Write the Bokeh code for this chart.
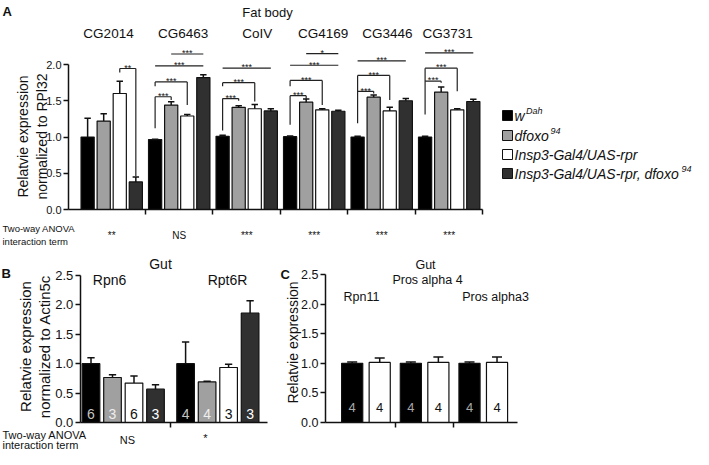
from math import pi
from bokeh.plotting import figure
from bokeh.models import (Range1d, FixedTicker, CustomJSTickFormatter, Label,
                          ColumnDataSource, NumeralTickFormatter)
from bokeh.layouts import column, row
from bokeh.embed import file_html
from bokeh.resources import INLINE
from bokeh.core.properties import value

FONT = "Liberation Sans"

# ---------------- data ----------------
A_genes = ["CG2014", "CG6463", "CoIV", "CG4169", "CG3446", "CG3731"]
A_wdah = [1.00, 0.965, 1.01, 1.005, 1.00, 1.00]
A_wdah_err = [0.26, 0.005, 0.015, 0.01, 0.01, 0.01]
A_dfoxo = [1.22, 1.44, 1.41, 1.48, 1.55, 1.62]
A_dfoxo_err = [0.10, 0.045, 0.02, 0.045, 0.03, 0.07]
A_rpr = [1.60, 1.29, 1.39, 1.375, 1.36, 1.375]
A_rpr_err = [0.17, 0.02, 0.06, 0.015, 0.05, 0.015]
A_rprfoxo = [0.38, 1.82, 1.36, 1.355, 1.50, 1.49]
A_rprfoxo_err = [0.07, 0.04, 0.03, 0.015, 0.03, 0.03]
A_anova = ["**", "NS", "***", "***", "***", "***"]

# significance brackets in panel A: group, from bar, to bar, height, leg ends, label
sig_group = [0, 1, 1, 1, 1, 2, 2, 2, 3, 3, 3, 3, 4, 4, 4, 5, 5, 5]
sig_from = [2, 1, 0, 0, 0, 0, 0, 0, 1, 0, 0, 0, 0, 0, 0, 0, 0, 0]
sig_to = [3, 3, 3, 2, 1, 3, 2, 1, 3, 3, 2, 1, 3, 2, 1, 3, 2, 1]
sig_y = [1.945, 2.145, 1.98, 1.76, 1.555, 1.95, 1.75, 1.53, 2.15, 1.99, 1.78, 1.57,
         2.05, 1.85, 1.63, 2.16, 1.95, 1.77]
sig_left = [1.89, None, None, 1.70, 1.12, None, 1.70, 1.09, None, None, 1.70, 1.17,
            None, 1.19, None, None, 1.31, None]
sig_right = [0.46, None, None, 1.44, 1.51, None, 1.49, 1.50, None, None, 1.44, 1.52,
             None, 1.51, 1.60, None, 1.63, 1.75]
sig_text = ["**", "***", "***", "***", "***", "***", "***", "***", "*", "***", "***", "***",
            "***", "***", "***", "***", "***", "***"]

B_genes = ["Rpn6", "Rpt6R"]
B_wdah = [1.00, 1.00]
B_wdah_err = [0.10, 0.37]
B_dfoxo = [0.765, 0.69]
B_dfoxo_err = [0.045, 0.01]
B_rpr = [0.67, 0.935]
B_rpr_err = [0.12, 0.055]
B_rprfoxo = [0.567, 1.86]
B_rprfoxo_err = [0.075, 0.21]
B_n = [6, 3, 6, 3, 4, 4, 3, 3]
B_anova = ["NS", "*"]

C_genes = ["Rpn11", "Pros alpha 4", "Pros alpha3"]
C_wdah = [1.00, 1.00, 1.00]
C_wdah_err = [0.02, 0.02, 0.02]
C_rpr = [1.015, 1.015, 1.015]
C_rpr_err = [0.075, 0.09, 0.09]
C_n = [4, 4, 4, 4, 4, 4]

COLORS = ["#000000", "#a0a0a0", "#ffffff", "#303030"]


def make_fig(w, h, xr, yr):
    p = figure(width=w, height=h, output_backend="svg", toolbar_location=None,
               x_range=Range1d(*xr), y_range=Range1d(*yr),
               min_border=0, min_border_left=0, min_border_right=0,
               min_border_top=0, min_border_bottom=0)
    p.outline_line_color = None
    p.xgrid.visible = False
    p.ygrid.visible = False
    p.background_fill_color = "white"
    p.border_fill_color = "white"
    return p


def style_axes(p, yticks, ysize, xticks, xbounds, yaxis_x):
    ya = p.yaxis[0]
    ya.fixed_location = yaxis_x
    ya.ticker = FixedTicker(ticks=yticks)
    ya.bounds = (0, yticks[-1])
    ya.formatter = NumeralTickFormatter(format="0.0")
    ya.major_label_text_font = FONT
    ya.major_label_text_font_size = ysize
    ya.major_label_text_color = "#111111"
    ya.major_label_standoff = 2
    ya.axis_line_width = 1.5
    ya.axis_line_color = "#111111"
    ya.major_tick_line_width = 1.5
    ya.major_tick_line_color = "#111111"
    ya.major_tick_out = 5
    ya.major_tick_in = 0
    ya.minor_tick_line_color = None
    xa = p.xaxis[0]
    xa.fixed_location = 0
    xa.ticker = FixedTicker(ticks=xticks)
    xa.formatter = CustomJSTickFormatter(code="return ''")
    xa.bounds = xbounds
    xa.axis_line_width = 1.5
    xa.axis_line_color = "#111111"
    xa.major_tick_line_width = 1.5
    xa.major_tick_line_color = "#111111"
    xa.major_tick_out = 5
    xa.major_tick_in = 0
    xa.minor_tick_line_color = None


def draw_bars(p, xs, tops, errs, colors, width, cap):
    src = ColumnDataSource(dict(
        x=xs, top=tops, up=[t + e for t, e in zip(tops, errs)], color=colors,
        x0=[x - cap for x in xs], x1=[x + cap for x in xs]))
    p.vbar(x="x", top="top", bottom=0, width=width, fill_color="color",
           line_color="#111111", line_width=1.2, source=src)
    p.segment(x0="x", y0="top", x1="x", y1="up", line_color="#111111",
              line_width=1.5, source=src)
    p.segment(x0="x0", y0="up", x1="x1", y1="up", line_color="#111111",
              line_width=1.5, source=src)


def lab(p, x, y, text, size, align="center", baseline="middle", angle=0,
        style="normal", color="#111111"):
    p.add_layout(Label(x=x, y=y, text=text, text_font=FONT, text_font_size=size,
                       text_align=align, text_baseline=baseline, angle=angle,
                       text_font_style=style, text_color=color))


# ---------------- panel A (screen box 0..693 x 0..250) ----------------
A_PX = 16.07          # px per x unit
A_PY = 72.5           # px per y unit
A_AX = 68             # pixel column of the y axis
A_Y0 = 209            # pixel row of y = 0
A_X0 = -0.59          # data x at the y axis
GW = 4.2
W_A, H_A = 693, 250


def pxA(px):
    return A_X0 + (px - A_AX) / A_PX


def pyA(py):
    return (A_Y0 - py) / A_PY


pA = make_fig(W_A, H_A, (pxA(0), pxA(W_A)), (pyA(H_A), pyA(0)))
style_axes(pA, [0, 0.5, 1.0, 1.5, 2.0], "11px",
           [GW * (g + 1) for g in range(len(A_genes))], (A_X0, GW * len(A_genes)), A_X0)


def ax(g, i):
    return g * GW + 0.6 + i


A_all = [A_wdah, A_dfoxo, A_rpr, A_rprfoxo]
A_err = [A_wdah_err, A_dfoxo_err, A_rpr_err, A_rprfoxo_err]
xs, tops, errs, cols = [], [], [], []
for g in range(len(A_genes)):
    for i in range(4):
        xs.append(ax(g, i))
        tops.append(A_all[i][g])
        errs.append(A_err[i][g])
        cols.append(COLORS[i])
draw_bars(pA, xs, tops, errs, cols, 0.82, 0.2)

# brackets
bx0, by0, bx1, by1 = [], [], [], []
tx, ty = [], []
for k in range(len(sig_group)):
    xa_ = ax(sig_group[k], sig_from[k])
    xb_ = ax(sig_group[k], sig_to[k])
    y = sig_y[k]
    bx0.append(xa_); by0.append(y); bx1.append(xb_); by1.append(y)
    if sig_left[k] is not None:
        bx0.append(xa_); by0.append(y); bx1.append(xa_); by1.append(sig_left[k])
    if sig_right[k] is not None:
        bx0.append(xb_); by0.append(y); bx1.append(xb_); by1.append(sig_right[k])
    tx.append((xa_ + xb_) / 2)
    ty.append(y + 0.01)
pA.segment(x0=bx0, y0=by0, x1=bx1, y1=by1, line_color="#222222", line_width=1.2)
pA.text(x=tx, y=ty, text=sig_text, text_font=value(FONT), text_font_size="9px",
        text_align="center", text_baseline="alphabetic", text_color="#111111")

# gene labels and titles
gene_dx = [-0.2, 0.25, 0.65, 0.55, 0.35, -0.1]
for g, name in enumerate(A_genes):
    lab(pA, g * GW + 2.1 + gene_dx[g], pyA(33), name, "13.5px")
lab(pA, pxA(267), pyA(12), "Fat body", "13px")
lab(pA, pxA(2), pyA(3), "A", "13px", align="left", baseline="top", style="bold")
lab(pA, pxA(22), pyA(136), "Relatvie expression", "14px", angle=pi / 2)
lab(pA, pxA(41), pyA(136), "normalized to RPl32", "14px", angle=pi / 2)
# ANOVA row
lab(pA, pxA(2), pyA(228), "Two-way ANOVA", "9.5px", align="left")
lab(pA, pxA(2), pyA(241), "interaction term", "9.5px", align="left")
for g, t in enumerate(A_anova):
    lab(pA, g * GW + 2.1, pyA(235), t, "10px")

# legend
leg_y = [pyA(115), pyA(135), pyA(154), pyA(173)]
pA.rect(x=[pxA(507)] * 4, y=leg_y, width=10, height=10, width_units="screen",
        height_units="screen", fill_color=COLORS, line_color="#111111", line_width=1)
leg_main = ["w", "dfoxo", "Insp3-Gal4/UAS-rpr", "Insp3-Gal4/UAS-rpr, dfoxo"]
leg_sup = ["Dah", "94", "", "94"]
leg_w = [10.5, 35, 0, 166]
for k in range(4):
    lab(pA, pxA(514), leg_y[k], leg_main[k], "14px", align="left", style="italic")
    if leg_sup[k]:
        lab(pA, pxA(514 + leg_w[k] + 1), leg_y[k] + 5 / A_PY, leg_sup[k], "9px",
            align="left", style="italic")

# ---------------- panel B (screen box 0..275 x 250..449) ----------------
TOP_BC = 250
H_BC = 199
B_PX = 21.5
B_PY = 58.8
B_AX = 79.75
BC_Y0 = 422
W_B = 275


def pxB(px):
    return (px - B_AX) / B_PX


def pyB(py):
    return (BC_Y0 - py) / B_PY


pB = make_fig(W_B, H_BC, (pxB(0), pxB(W_B)), (pyB(TOP_BC + H_BC), pyB(TOP_BC)))
style_axes(pB, [0, 0.5, 1.0, 1.5, 2.0, 2.5], "13px", [4.2], (0, 8.7), 0)


def bx(g, i):
    return 0.5 + 4.4 * g + i


B_all = [B_wdah, B_dfoxo, B_rpr, B_rprfoxo]
B_err = [B_wdah_err, B_dfoxo_err, B_rpr_err, B_rprfoxo_err]
xs, tops, errs, cols = [], [], [], []
for g in range(len(B_genes)):
    for i in range(4):
        xs.append(bx(g, i))
        tops.append(B_all[i][g])
        errs.append(B_err[i][g])
        cols.append(COLORS[i])
draw_bars(pB, xs, tops, errs, cols, 0.82, 0.17)
B_ncol = ["#c4c4c4", "#eeeeee", "#111111", "#ffffff"] * 2
pB.text(x=xs, y=[0.15] * len(xs), text=[str(n) for n in B_n], text_font=value(FONT),
        text_font_size="14px", text_align="center", text_baseline="middle",
        text_color=B_ncol)
lab(pB, pxB(160), pyB(263), "Gut", "14px")
lab(pB, pxB(109), pyB(279), B_genes[0], "14px")
lab(pB, pxB(227), pyB(279), B_genes[1], "14px")
lab(pB, pxB(1), pyB(265), "B", "13px", align="left", baseline="top", style="bold")
lab(pB, pxB(25), pyB(346), "Relatvie expression", "15px", angle=pi / 2)
lab(pB, pxB(44), pyB(346), "normalized to Actin5c", "15px", angle=pi / 2)
lab(pB, pxB(2), pyB(434), "Two-way ANOVA", "11px", align="left")
lab(pB, pxB(2), pyB(444), "interaction term", "11px", align="left")
lab(pB, pxB(127), pyB(439), B_anova[0], "11px")
lab(pB, pxB(205), pyB(437), B_anova[1], "11px")

# ---------------- panel C (screen box 275..693 x 250..449) ----------------
C_PX = 27.8
C_PY = 59.2
C_AX = 325
C_LEFT = 275
W_C = 693 - C_LEFT


def pxC(px):
    return (px - C_AX) / C_PX


def pyC(py):
    return (BC_Y0 - py) / C_PY


pC = make_fig(W_C, H_BC, (pxC(C_LEFT), pxC(C_LEFT + W_C)), (pyC(TOP_BC + H_BC), pyC(TOP_BC)))


def cx(g, i):
    return 0.96 + 2.11 * g + 0.99 * i


style_axes(pC, [0, 0.5, 1.0, 1.5, 2.0, 2.5], "12.5px",
           [(cx(g, 1) + cx(g + 1, 0)) / 2 for g in range(2)], (0, cx(2, 1) + 0.72), 0)
xs, tops, errs, cols = [], [], [], []
for g in range(len(C_genes)):
    xs += [cx(g, 0), cx(g, 1)]
    tops += [C_wdah[g], C_rpr[g]]
    errs += [C_wdah_err[g], C_rpr_err[g]]
    cols += [COLORS[0], COLORS[2]]
draw_bars(pC, xs, tops, errs, cols, 0.76, 0.18)
pC.text(x=xs, y=[0.25] * len(xs), text=[str(n) for n in C_n], text_font=value(FONT),
        text_font_size="13px", text_align="center", text_baseline="middle",
        text_color=["#a8a8a8", "#111111"] * 3)
lab(pC, pxC(280), pyC(266), "C", "13px", align="left", baseline="top", style="bold")
lab(pC, pxC(425), pyC(264), "Gut", "12.5px")
lab(pC, pxC(427), pyC(279.5), C_genes[1], "12.5px")
lab(pC, pxC(361), pyC(296.5), C_genes[0], "12.5px")
lab(pC, pxC(495), pyC(296.5), C_genes[2], "12.5px")
lab(pC, pxC(292), pyC(342), "Relatvie expression", "14px", angle=pi / 2)

layout = column(pA, row(pB, pC, spacing=0), spacing=0)
open("out.html", "w").write(file_html(layout, INLINE))
